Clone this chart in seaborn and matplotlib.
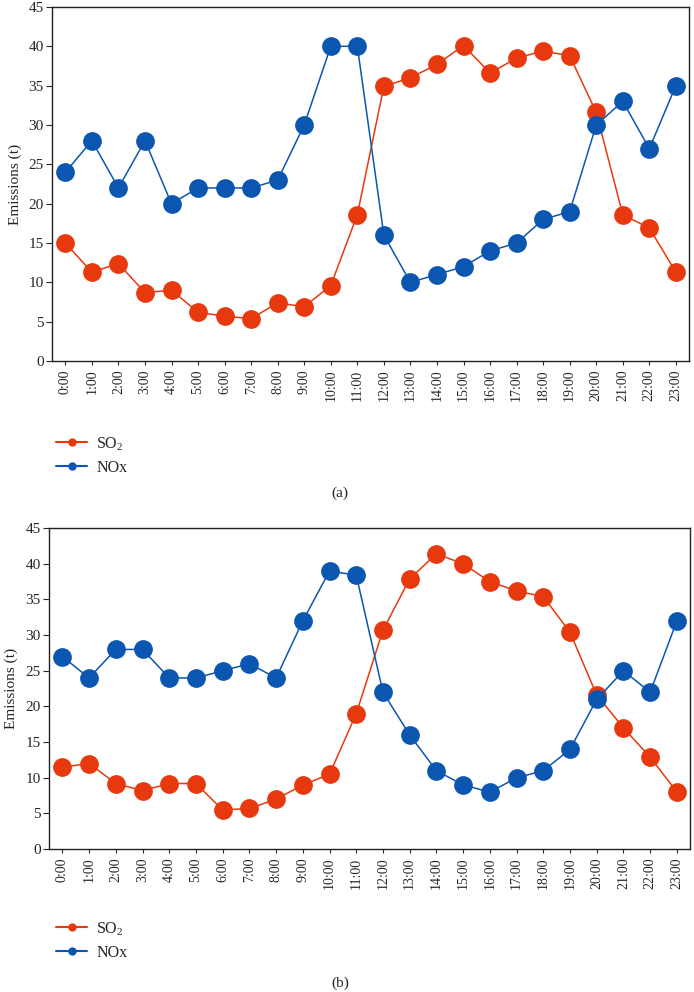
import numpy as np
import pandas as pd
import matplotlib
matplotlib.use("Agg")
import matplotlib.pyplot as plt
import seaborn as sns
from matplotlib.lines import Line2D

hours = [f"{h}:00" for h in range(24)]

so2_a = [15.0, 11.3, 12.4, 8.7, 9.0, 6.2, 5.7, 5.4, 7.4, 6.9, 9.6, 18.6,
         34.9, 36.0, 37.7, 40.1, 36.6, 38.5, 39.4, 38.8, 31.6, 18.6, 16.9, 11.3]
nox_a = [24, 28, 22, 28, 20, 22, 22, 22, 23, 30, 40, 40,
         16, 10, 11, 12, 14, 15, 18, 19, 30, 33, 27, 35]
so2_b = [11.5, 12.0, 9.2, 8.2, 9.2, 9.2, 5.5, 5.7, 7.0, 9.0, 10.5, 19.0,
         30.7, 37.9, 41.4, 40.0, 37.5, 36.2, 35.4, 30.4, 21.6, 17.0, 12.9, 8.0]
nox_b = [27, 24, 28, 28, 24, 24, 25, 26, 24, 32, 39, 38.4,
         22, 16, 11, 9, 8, 10, 11, 14, 21, 25, 22, 32]

series = ["SO$_2$", "NOx"]
colors = ["#E8380D", "#0A56B0"]
panels = ["(a)", "(b)"]

sns.set_theme(style="white")
plt.rcParams["font.family"] = ["Liberation Serif", "DejaVu Serif"]
plt.rcParams["mathtext.fontset"] = "custom"
plt.rcParams["mathtext.rm"] = "Liberation Serif"

fig = plt.figure(figsize=(6.94, 9.92), dpi=100)

axes_rects = [[0.075, 0.636, 0.918, 0.357], [0.0706, 0.144, 0.924, 0.3236]]
legend_y = [0.568, 0.079]
caption_y = [0.496, 0.002]

for i, (so2, nox) in enumerate([(so2_a, nox_a), (so2_b, nox_b)]):
    ax = fig.add_axes(axes_rects[i])
    df = pd.DataFrame({
        "hour": list(range(24)) * 2,
        "value": so2 + nox,
        "series": [series[0]] * 24 + [series[1]] * 24,
    })
    sns.lineplot(data=df, x="hour", y="value", hue="series", palette=colors,
                 marker="o", markersize=13.5, markeredgewidth=0, linewidth=1.1,
                 ax=ax, legend=False)
    ax.set_xlim(-0.5, 23.5)
    ax.set_ylim(0, 45)
    ax.set_yticks(np.arange(0, 46, 5))
    ax.set_xticks(range(24))
    ax.set_xticklabels(hours, rotation=90)
    ax.tick_params(axis="y", labelsize=11, length=4, width=0.8, direction="out", left=True, pad=2)
    ax.tick_params(axis="x", labelsize=10, length=3, width=0.8, direction="out", bottom=True, pad=3)
    ax.set_xlabel("")
    ax.set_ylabel("Emissions (t)", fontsize=11, labelpad=5)
    for s in ax.spines.values():
        s.set_color("#222222")
        s.set_linewidth(1.0)

    handles = [Line2D([0], [0], color=c, lw=1.5, marker="o", markersize=5) for c in colors]
    fig.legend(handles, series, loc="upper left", bbox_to_anchor=(0.072, legend_y[i]),
               frameon=False, fontsize=11.5, handlelength=1.9, handletextpad=0.6,
               labelspacing=0.45, borderaxespad=0)
    fig.text(0.49, caption_y[i], panels[i], ha="center", va="bottom", fontsize=11)

fig.savefig("out.png", dpi=100)
